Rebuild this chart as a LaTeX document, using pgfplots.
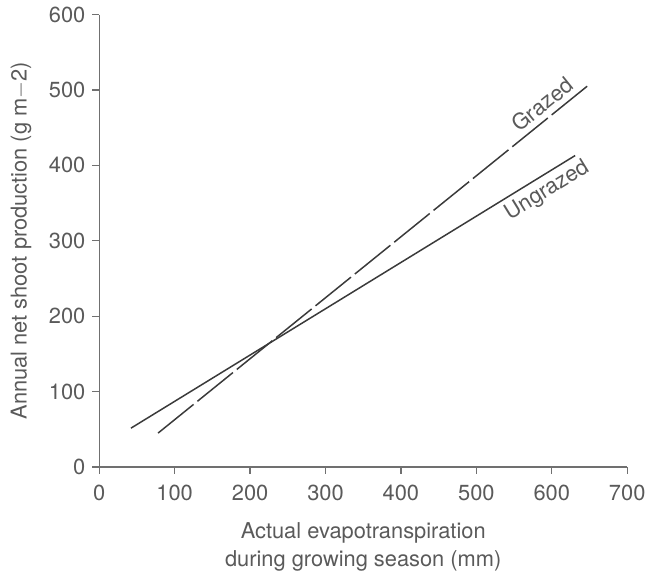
\documentclass[border=0pt]{standalone}
\usepackage{pgfplots}
\pgfplotsset{compat=1.18}
\usepackage{fontspec}
\setmainfont{TeX Gyre Heros}
\definecolor{txt}{HTML}{5A5A5A}
\definecolor{ln}{HTML}{3A3A3A}
\definecolor{ax}{HTML}{707070}

\begin{document}
\begin{tikzpicture}
\begin{axis}[
  scale only axis, width=266pt, height=228pt,
  xmin=0, xmax=700, ymin=0, ymax=600,
  axis x line*=bottom, axis y line*=left,
  axis line style={ax, line width=0.6pt},
  tick align=outside, major tick length=3.5pt,
  tick style={ax, line width=0.6pt},
  xtick={0,100,...,700}, ytick={0,100,...,600},
  /pgf/number format/assume math mode=true,
  ticklabel style={font=\fontsize{11}{13}\selectfont, text=txt},
  xticklabel style={yshift=-2pt},
  label style={font=\fontsize{11}{14}\selectfont, text=txt},
  xlabel={Actual evapotranspiration\\during growing season (mm)},
  xlabel style={align=center, yshift=-4pt},
  ylabel={Annual net shoot production (g m$-$2)},
  ylabel style={yshift=2pt},
  clip=false,
]
% Ungrazed (solid)
\addplot[ln, line width=0.75pt] coordinates {(42,51.5) (631,413)};
% Grazed (long dashes)
\addplot[ln, line width=0.75pt, dash pattern=on 23pt off 2.5pt] coordinates {(78,45) (652,509)};
\node[txt, rotate=38.9, anchor=south, inner sep=3pt, font=\fontsize{11}{13}\selectfont] at (axis cs:600,466) {Grazed};
\node[txt, rotate=31.5, anchor=north, inner sep=2.5pt, font=\fontsize{11}{13}\selectfont] at (axis cs:583,384) {Ungrazed};
\end{axis}
\path[use as bounding box] (-50pt,-54pt) rectangle (276pt,232pt);
\end{tikzpicture}
\end{document}
